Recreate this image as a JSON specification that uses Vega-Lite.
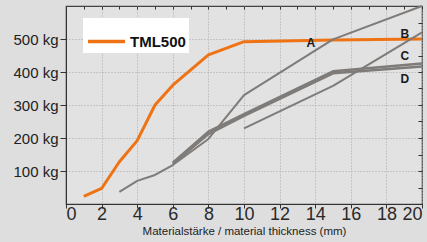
{
  "$schema": "https://vega.github.io/schema/vega-lite/v6.json",
  "width": 356,
  "height": 198,
  "autosize": {"type": "none"},
  "padding": {"left": 66, "top": 6, "right": 5, "bottom": 38},
  "background": "#dedede",
  "config": {
    "view": {"stroke": "#444", "strokeWidth": 1.2, "fill": "#e2e2e2"},
    "font": "Liberation Sans",
    "axis": {"labelColor": "#222", "domainColor": "#333", "tickColor": "#333", "titleColor": "#222", "gridColor": "#a8a8a8", "gridDash": [1, 2], "gridWidth": 1}
  },
  "datasets": {
    "tml": [
      {"series": "TML500", "x": 1, "y": 23},
      {"series": "TML500", "x": 2, "y": 47},
      {"series": "TML500", "x": 3, "y": 128},
      {"series": "TML500", "x": 4, "y": 192},
      {"series": "TML500", "x": 5, "y": 300},
      {"series": "TML500", "x": 6, "y": 360},
      {"series": "TML500", "x": 8, "y": 452},
      {"series": "TML500", "x": 10, "y": 492},
      {"series": "TML500", "x": 15, "y": 497},
      {"series": "TML500", "x": 20, "y": 500}
    ],
    "thin": [
      {"series": "A", "x": 3, "y": 37},
      {"series": "A", "x": 4, "y": 70},
      {"series": "A", "x": 5, "y": 88},
      {"series": "A", "x": 6, "y": 118},
      {"series": "A", "x": 8, "y": 197},
      {"series": "A", "x": 10, "y": 330},
      {"series": "A", "x": 15, "y": 499},
      {"series": "A", "x": 20, "y": 600},
      {"series": "B", "x": 10, "y": 229},
      {"series": "B", "x": 15, "y": 358},
      {"series": "B", "x": 20, "y": 520}
    ],
    "thick": [
      {"series": "C", "x": 6, "y": 125},
      {"series": "C", "x": 8, "y": 219},
      {"series": "C", "x": 10, "y": 272},
      {"series": "C", "x": 15, "y": 402},
      {"series": "C", "x": 20, "y": 426},
      {"series": "D", "x": 6, "y": 121},
      {"series": "D", "x": 8, "y": 212},
      {"series": "D", "x": 10, "y": 267},
      {"series": "D", "x": 15, "y": 396},
      {"series": "D", "x": 20, "y": 417}
    ],
    "labels": [
      {"label": "A", "x": 13.76, "y": 488},
      {"label": "B", "x": 19.04, "y": 515},
      {"label": "C", "x": 19.04, "y": 448},
      {"label": "D", "x": 19.04, "y": 379}
    ]
  },
  "layer": [
    {
      "data": {"name": "tml"},
      "mark": {"type": "line", "strokeWidth": 3, "strokeJoin": "round"},
      "encoding": {
        "x": {"field": "x", "type": "quantitative",
          "scale": {"domain": [0, 20], "nice": false},
          "axis": {"values": [0, 2, 4, 6, 8, 10, 12, 14, 16, 18, 20], "grid": true, "labelFontSize": 18, "labelPadding": -3, "tickSize": 4, "labelColor": "#2a2a2a",
            "title": "Materialstärke / material thickness (mm)", "titleFontSize": 11.5, "titleFontWeight": "normal", "titlePadding": 2}},
        "y": {"field": "y", "type": "quantitative",
          "scale": {"domain": [0, 600], "nice": false},
          "axis": {"values": [100, 200, 300, 400, 500], "grid": true, "labelExpr": "datum.value + ' kg'", "labelFontSize": 15, "labelPadding": 2, "tickSize": 6, "title": null}},
        "color": {"field": "series", "type": "nominal",
          "scale": {"domain": ["TML500"], "range": ["#ef7314"]},
          "legend": {"title": null, "orient": "none", "legendX": 17, "legendY": 12, "fillColor": "#ffffff", "padding": 3,
            "symbolType": "stroke", "symbolSize": 1369, "symbolStrokeWidth": 3.5, "labelFontSize": 15, "labelFontWeight": "bold", "labelColor": "#111", "labelOffset": 3}}
      }
    },
    {
      "data": {"name": "thin"},
      "mark": {"type": "line", "color": "#7e7b79", "strokeWidth": 2, "strokeJoin": "round"},
      "encoding": {
        "x": {"field": "x", "type": "quantitative",
          "axis": {"orient": "top", "values": [0, 1, 2, 3, 4, 5, 6, 7, 8, 9, 10, 11, 12, 13, 14, 15, 16, 17, 18, 19, 20], "labels": false, "grid": false, "domain": false, "tickSize": -3, "title": null}},
        "y": {"field": "y", "type": "quantitative",
          "axis": {"orient": "right", "values": [0, 50, 100, 150, 200, 250, 300, 350, 400, 450, 500, 550, 600], "labels": false, "grid": false, "domain": false, "tickSize": -4, "title": null}},
        "detail": {"field": "series"}
      }
    },
    {
      "data": {"name": "thick"},
      "mark": {"type": "line", "color": "#7e7b79", "strokeWidth": 2.5, "strokeJoin": "round"},
      "encoding": {
        "x": {"field": "x", "type": "quantitative", "axis": null},
        "y": {"field": "y", "type": "quantitative", "axis": null},
        "detail": {"field": "series"}
      }
    },
    {
      "data": {"name": "labels"},
      "mark": {"type": "text", "fontWeight": "bold", "fontSize": 12, "color": "#1a1a1a"},
      "encoding": {
        "x": {"field": "x", "type": "quantitative", "axis": null},
        "y": {"field": "y", "type": "quantitative", "axis": null},
        "text": {"field": "label"}
      }
    }
  ],
  "resolve": {"axis": {"x": "independent", "y": "independent"}}
}
